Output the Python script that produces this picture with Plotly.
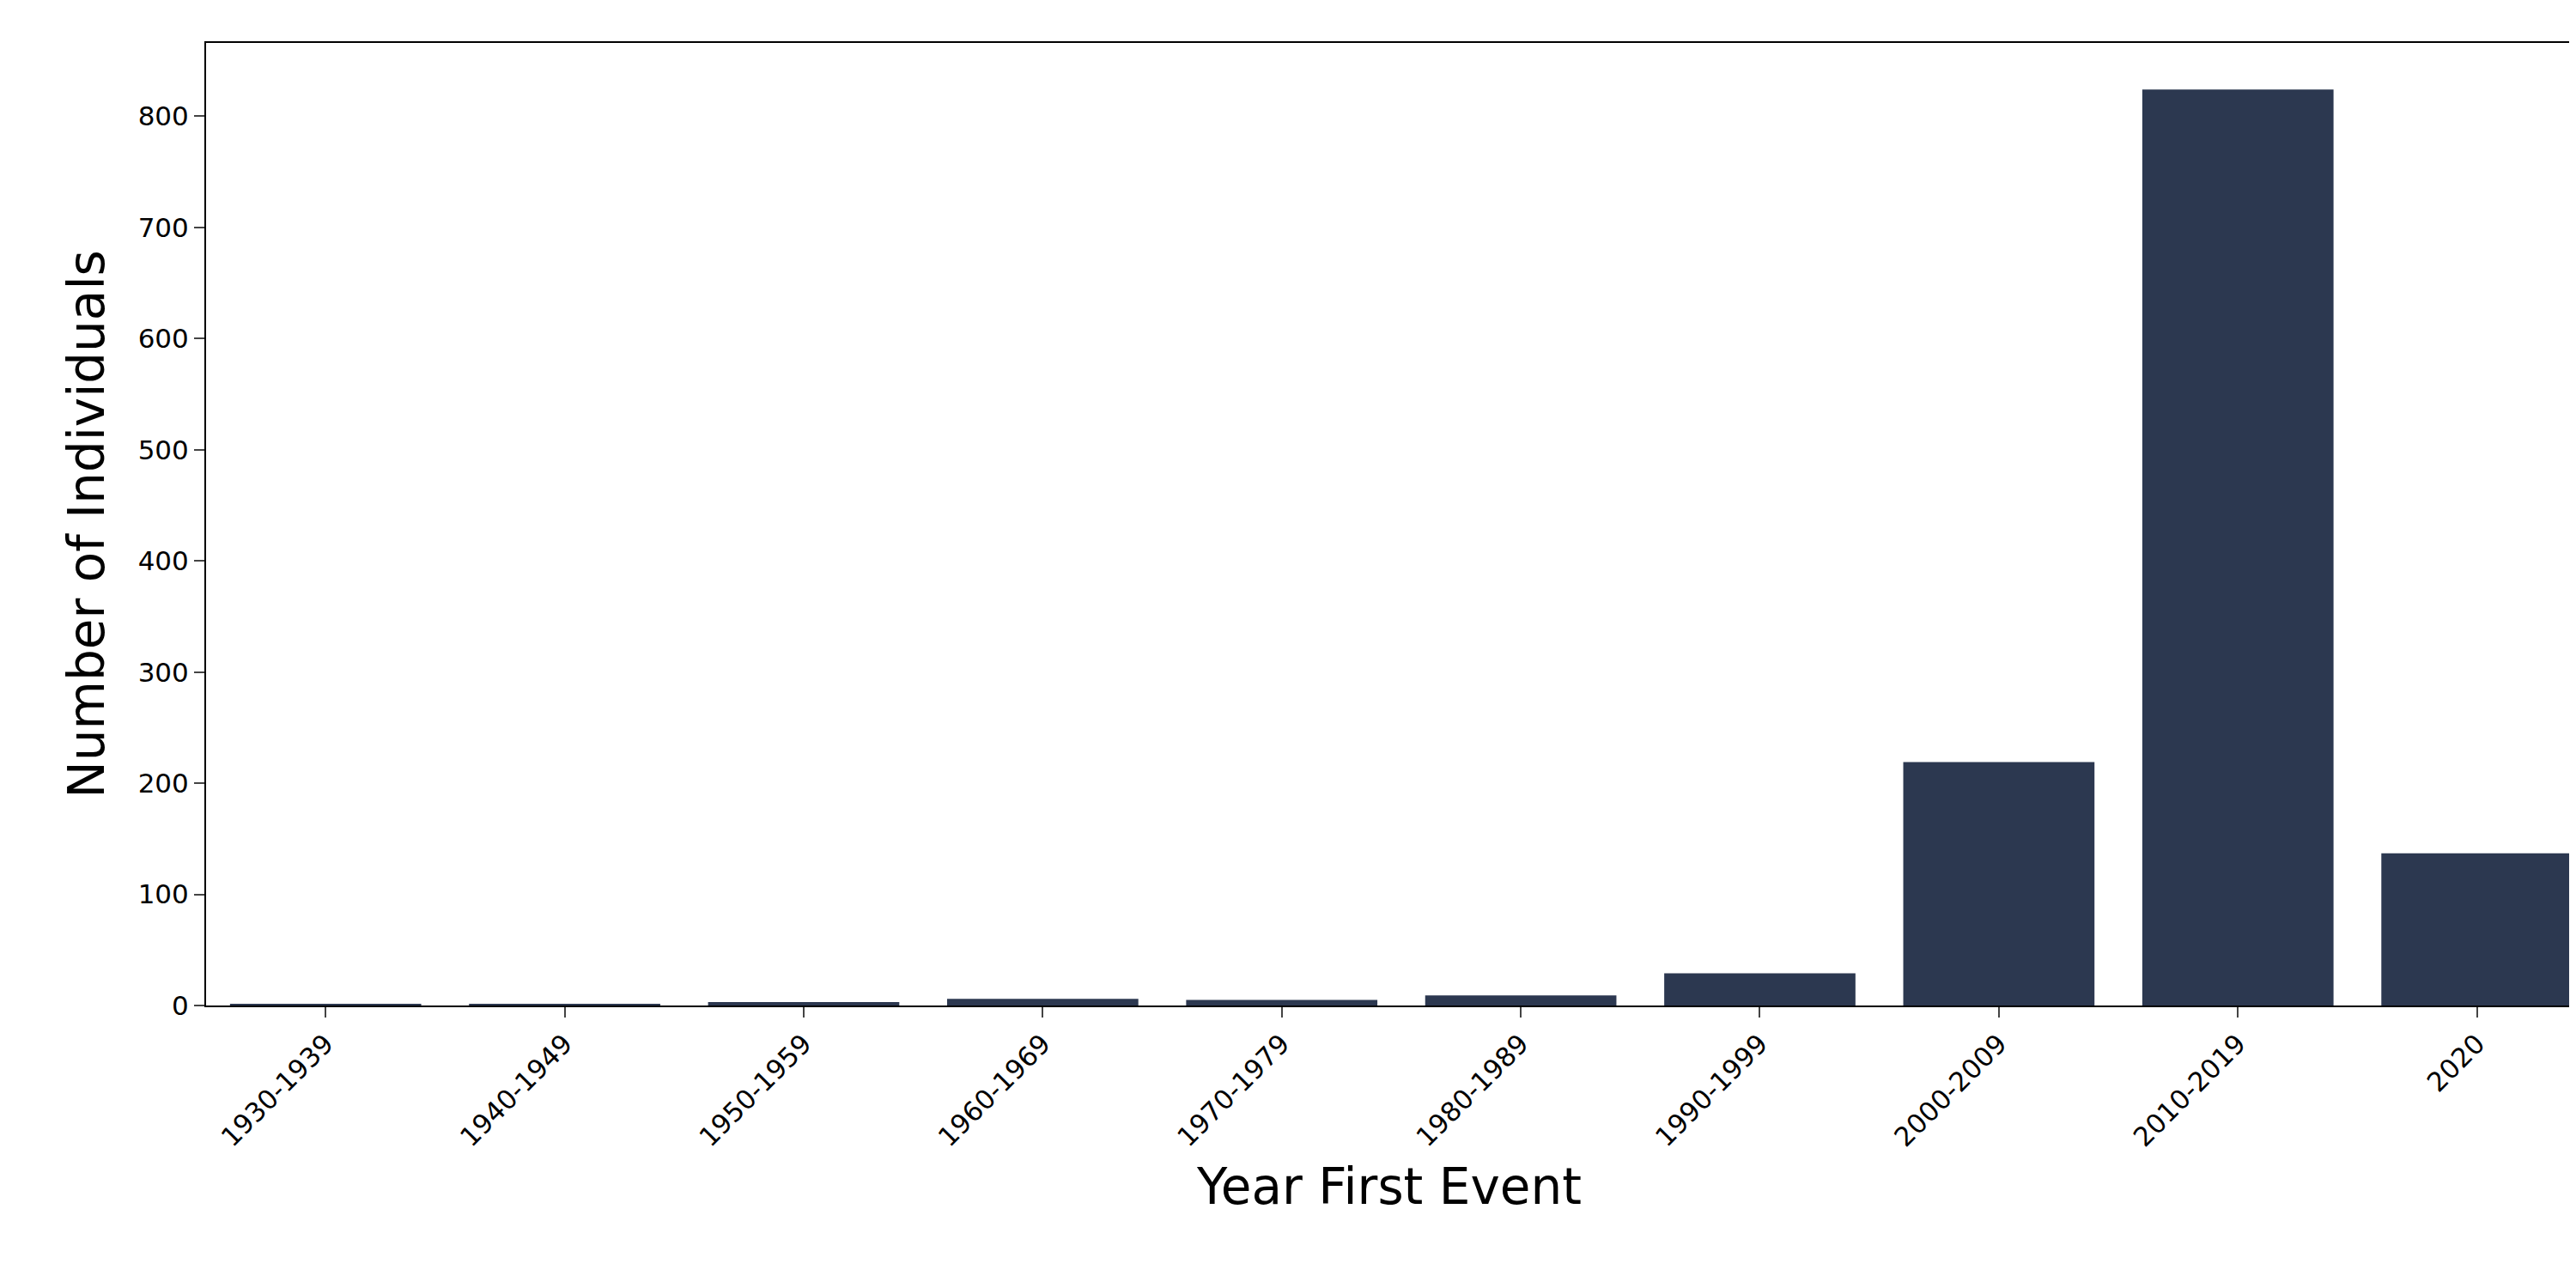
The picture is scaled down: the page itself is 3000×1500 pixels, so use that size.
import plotly.graph_objects as go

decades = ["1930-1939", "1940-1949", "1950-1959", "1960-1969", "1970-1979",
           "1980-1989", "1990-1999", "2000-2009", "2010-2019", "2020"]
individuals = [1, 1, 3, 6, 5, 9, 29, 219, 824, 137]

fig = go.Figure()
fig.add_trace(go.Bar(x=decades, y=individuals, marker=dict(color="#2c3850", line=dict(width=0)),
                     width=0.8))
fig.update_layout(
    width=3000, height=1500, plot_bgcolor="white", paper_bgcolor="white",
    margin=dict(l=232, r=10, t=42, b=337),
    font=dict(family="DejaVu Sans", color="black", size=31),
    showlegend=False,
    xaxis=dict(title=dict(text="Year First Event", font=dict(size=58), standoff=20),
               tickangle=-45, ticks="outside", ticklen=12, tickwidth=2,
               showline=True, linecolor="black", linewidth=2, mirror=True,
               range=[-0.5, 9.4]),
    yaxis=dict(title=dict(text="Number of Individuals", font=dict(size=58), standoff=20),
               range=[0, 866], tickvals=list(range(0, 801, 100)), ticks="outside",
               ticklen=12, tickwidth=2, showgrid=False, zeroline=False,
               showline=True, linecolor="black", linewidth=2, mirror=True),
)
fig.write_html("out.html")
